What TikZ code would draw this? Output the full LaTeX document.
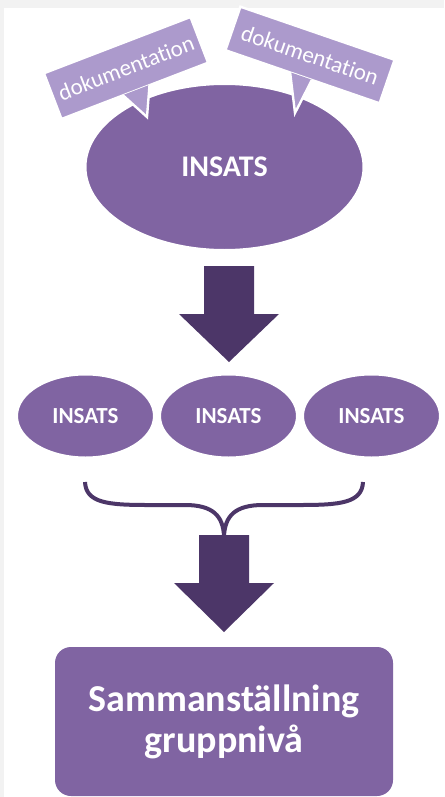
\documentclass[tikz,border=0pt]{standalone}
\usepackage{fontspec}
\setmainfont{Carlito}[Ligatures=NoCommon]
\usetikzlibrary{calc}
\usetikzlibrary{positioning}
\usetikzlibrary{shapes.geometric}

\definecolor{insatsfill}{RGB}{128,100,162}
\definecolor{dokfill}{RGB}{172,154,204}
\definecolor{pildark}{RGB}{76,54,104}
\definecolor{ramgrey}{RGB}{242,242,242}

\tikzset{
  insats/.style={ellipse, fill=insatsfill, draw=white, line width=1pt, text=white, inner sep=0pt},
  dok/.style={rectangle, fill=dokfill, draw=white, line width=1.2pt, text=white, inner sep=0pt, font=\fontsize{11.5}{13}\selectfont},
  spets/.style={fill=dokfill, draw=white, line width=1.2pt},
  blockpil/.style={fill=pildark},
  klammer/.style={draw=pildark, line width=2pt},
  sam/.style={rectangle, rounded corners=8pt, fill=insatsfill, text=white, align=center, minimum width=169pt, minimum height=74.5pt, font=\bfseries\fontsize{19}{20.5}\selectfont}
}

\begin{document}
\begin{tikzpicture}[x=0.5pt, y=-0.5pt]
        \useasboundingbox (0,0) rectangle (444,797);
        \fill[ramgrey] (0,0) rectangle (444,797);
        \fill[white] (4,8) rectangle (444,797);

        % stora insatsen
        \node[insats, minimum width=139pt, minimum height=83pt, font=\bfseries\fontsize{15}{18}\selectfont] (big) at (224.5,167) {INSATS};

        % dokumentation, vänster
        \node[dok, rotate=21, minimum width=78.5pt, minimum height=24.5pt] (dl) at (126,68) {dokumentation};
        \coordinate (dltip) at (147,117);
        \coordinate (dlp) at ($(dl.south west)!0.03!(dl.north west)$);
        \coordinate (dlq) at ($(dl.south east)!0.03!(dl.north east)$);
        \path[spets] ($(dlp)!0.42!(dlq)$) -- (dltip) -- ($(dlp)!0.6!(dlq)$);

        % dokumentation, höger
        \node[dok, rotate=-19, minimum width=81.5pt, minimum height=23pt] (dr) at (310,55) {dokumentation};
        \coordinate (drtip) at (295,113);
        \coordinate (drp) at ($(dr.south west)!0.03!(dr.north west)$);
        \coordinate (drq) at ($(dr.south east)!0.03!(dr.north east)$);
        \path[spets] ($(drp)!0.42!(drq)$) -- (drtip) -- ($(drp)!0.56!(drq)$);

        % pil 1
        \coordinate (p1) at (229,266);
        \fill[blockpil] (p1) -- ++(25,0) -- ++(0,48) -- ++(25,0) -- ++(-50,48) -- ++(-50,-48) -- ++(25,0) -- ++(0,-48) -- cycle;

        % tre insatser
        \node[insats, minimum width=68.5pt, minimum height=41.5pt, font=\bfseries\fontsize{11.5}{14}\selectfont] (i2) at (228.5,416) {INSATS};
        \node[insats, minimum width=68.5pt, minimum height=41.5pt, font=\bfseries\fontsize{11.5}{14}\selectfont, left=2pt of i2] (i1) {INSATS};
        \node[insats, minimum width=68.5pt, minimum height=41.5pt, font=\bfseries\fontsize{11.5}{14}\selectfont, right=2pt of i2] (i3) {INSATS};

        % klammer
        \coordinate (kv) at (85,482);
        \coordinate (kh) at (363,482);
        \coordinate (ks) at (224,536);
        \draw[klammer] (kv) .. controls (86,503) and (108,505) .. (148,505) -- (185,505) .. controls (213,505) and (223,516) .. (ks);
        \draw[klammer] (kh) .. controls (362,503) and (340,505) .. (300,505) -- (263,505) .. controls (235,505) and (225,516) .. (ks);

        % pil 2
        \coordinate (p2) at (224,535);
        \fill[blockpil] (p2) -- ++(25,0) -- ++(0,48) -- ++(25,0) -- ++(-50,49) -- ++(-50,-49) -- ++(25,0) -- ++(0,-48) -- cycle;

        % sammanställning
        \node[sam] (summa) at (224,721.5) {Sammanställning\\gruppnivå};
\end{tikzpicture}
\end{document}
